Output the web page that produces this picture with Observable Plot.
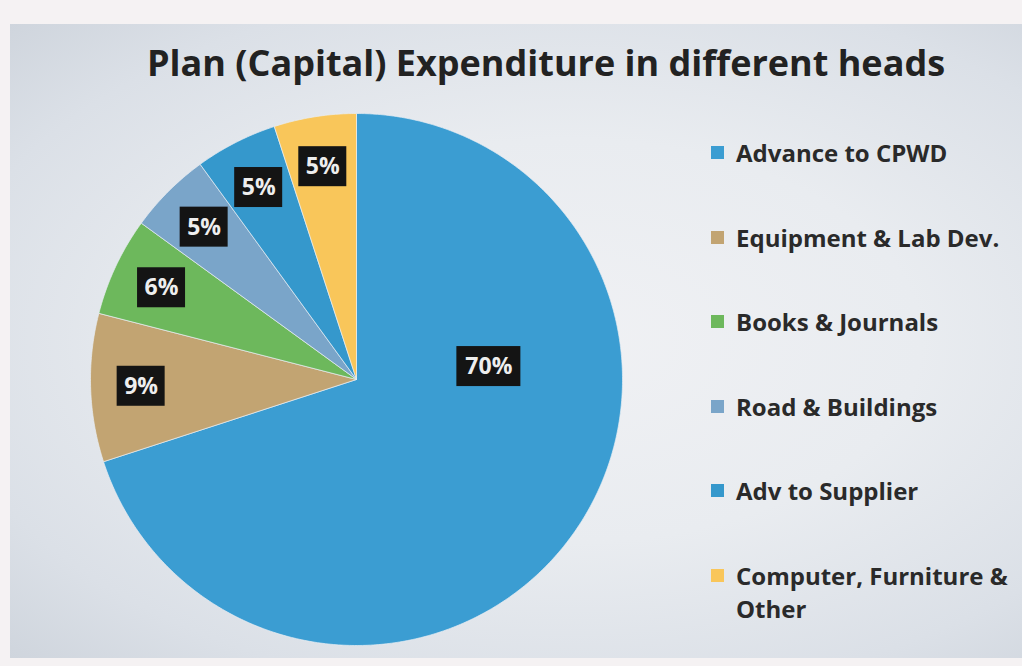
<!DOCTYPE html>
<html><head><meta charset="utf-8">
<script src="https://cdn.jsdelivr.net/npm/d3@7"></script>
<script src="https://cdn.jsdelivr.net/npm/@observablehq/plot@0.6"></script>
<style>
html,body{margin:0;padding:0;width:1022px;height:666px;overflow:hidden;}
body{background:#f5f2f3;font-family:"Open Sans",sans-serif;position:relative;}
#panel{position:absolute;left:10px;top:24px;width:1012px;height:634px;
  background:radial-gradient(ellipse at 55% 50%, #f0f1f4 0%, #e9ecf0 45%, #dbe0e7 80%, #cfd5dd 100%);}
#title{position:absolute;left:100px;width:892px;top:38px;text-align:center;font-size:36px;line-height:50px;font-weight:700;color:#222;white-space:nowrap;}
#chart{position:absolute;left:86px;top:109px;}
#legend{position:absolute;left:711px;top:136px;width:310px;}
.item{position:relative;height:84.5px;}
.sw{position:absolute;left:0;top:10px;width:13px;height:13px;}
.lab{position:absolute;left:25px;top:0;width:285px;font-size:24px;line-height:33px;font-weight:700;color:#2a2a2a;}
</style></head>
<body>
<div id="panel"></div>
<div id="title">Plan (Capital) Expenditure in different heads</div>
<div id="chart"></div>
<div id="legend"></div>
<script>
const categories = ["Advance to CPWD","Equipment & Lab Dev.","Books & Journals","Road & Buildings","Adv to Supplier","Computer, Furniture & Other"];
const shares = [70, 9, 6, 5, 5, 5];
const labels = ["70%","9%","6%","5%","5%","5%"];
const colors = ["#3b9dd2","#c2a472","#6db85c","#7aa5c9","#3598cc","#f9c65a"];

const arcs = d3.pie().sort(null).value(d => d)(shares);

// slice outlines in unit-circle data space (y up, angle 0 at 12 o'clock, clockwise)
const pts = [];
arcs.forEach((a, i) => {
  const n = Math.max(8, Math.ceil((a.endAngle - a.startAngle) / 0.01));
  pts.push({cat: categories[i], x: 0, y: 0});
  for (let k = 0; k <= n; k++) {
    const t = a.startAngle + (a.endAngle - a.startAngle) * k / n;
    pts.push({cat: categories[i], x: Math.sin(t), y: Math.cos(t)});
  }
  pts.push({cat: categories[i], x: 0, y: 0});
});

const maxShare = d3.max(shares);
const lab = arcs.map((a, i) => {
  const big = shares[i] === maxShare;
  const t = a.startAngle + (a.endAngle - a.startAngle) * (big ? 0.335 : 0.5);
  const r = big ? 0.5 : 0.81;
  const x = r * Math.sin(t), y = r * Math.cos(t);
  const hw = (16 * labels[i].length + 16) / 2 / 266, hh = 20 / 266;
  return {text: labels[i], x, y, x1: x - hw, x2: x + hw, y1: y - hh, y2: y + hh};
});

const chart = Plot.plot({
  width: 540, height: 540, margin: 4,
  x: {domain: [-1, 1], axis: null},
  y: {domain: [-1, 1], axis: null},
  color: {domain: categories, range: colors},
  style: {background: "transparent", overflow: "visible"},
  marks: [
    Plot.line(pts, {x: "x", y: "y", z: "cat", fill: "cat", stroke: "#e8eef3", strokeWidth: 1, strokeOpacity: 0.7, curve: "linear"}),
    Plot.rect(lab, {x1: "x1", x2: "x2", y1: "y1", y2: "y2", fill: "#141414"}),
    Plot.text(lab, {x: "x", y: "y", text: "text", fill: "#eeeeee", fontSize: 23, fontWeight: 700, fontFamily: "Open Sans"})
  ]
});
document.getElementById("chart").appendChild(chart);

const leg = document.getElementById("legend");
categories.forEach((c, i) => {
  const it = document.createElement("div"); it.className = "item";
  const sw = document.createElement("div"); sw.className = "sw"; sw.style.background = colors[i];
  const l = document.createElement("div"); l.className = "lab"; l.textContent = c;
  it.appendChild(sw); it.appendChild(l); leg.appendChild(it);
});
</script>
</body></html>
